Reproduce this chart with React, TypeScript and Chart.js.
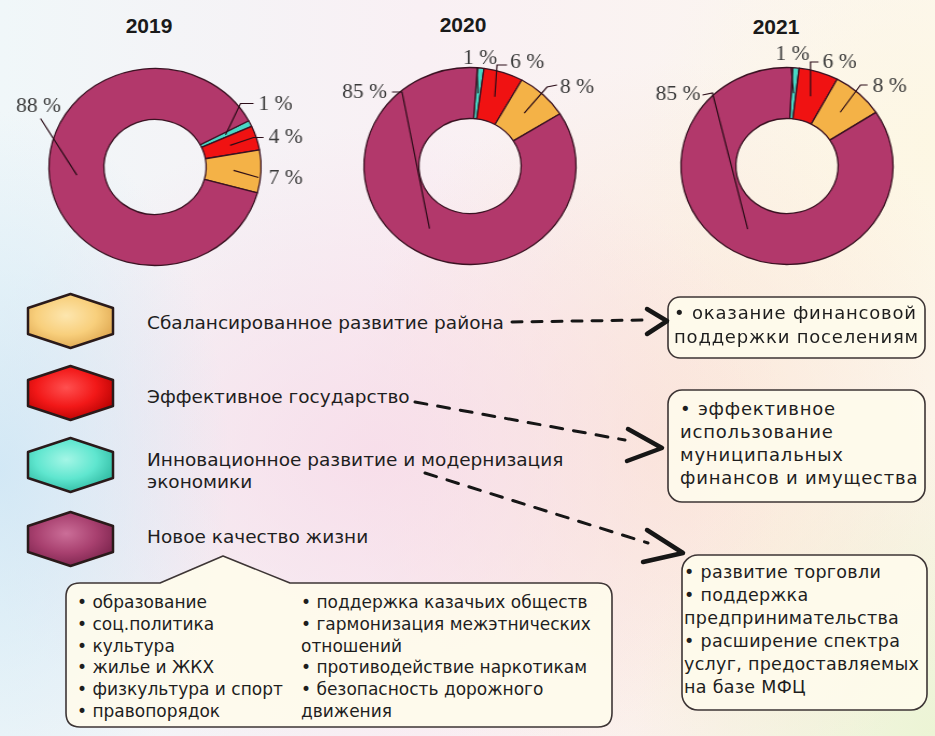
import React, { useEffect, useRef } from "react";
import { Chart, registerables } from "chart.js";

Chart.register(...registerables);

// ---------------- data ----------------
const categories = [
  "Инновационное развитие и модернизация экономики",
  "Эффективное государство",
  "Сбалансированное развитие района",
  "Новое качество жизни",
];
const sliceColors = ["#48D8C6", "#F01212", "#F4B247", "#B2386B"];
const years = ["2019", "2020", "2021"];
const values2019 = [1, 4, 7, 88];
const values2020 = [1, 6, 8, 85];
const values2021 = [1, 6, 8, 85];
const legendOrder = [2, 1, 0, 3];

const box1Lines = ["• оказание финансовой", "поддержки поселениям"];
const box2Lines = ["• эффективное", "использование", "муниципальных", "финансов и имущества"];
const box3Lines = [
  "• развитие торговли",
  "• поддержка",
  "предпринимательства",
  "• расширение спектра",
  "услуг, предоставляемых",
  "на базе МФЦ",
];
const lifeLeft = ["• образование", "• соц.политика", "• культура", "• жилье и ЖКХ", "• физкультура и спорт", "• правопорядок"];
const lifeRight = [
  "• поддержка казачьих обществ",
  "• гармонизация межэтнических",
  "отношений",
  "• противодействие наркотикам",
  "• безопасность дорожного",
  "движения",
];

// ---------------- layout / style ----------------
const CW = 300;
const CH = 250;
const SX = 1.077;
const R_OUT = 98.5;
const R_IN = 47.5;

type LabelPos = { e: number[]; k?: number[]; t: number[]; a: CanvasTextAlign };

const layout2019: LabelPos[] = [
  { e: [85.5, -63.5], k: [98.5, -63.5], t: [103.5, -62.5], a: "left" },
  { e: [98.5, -29.5], k: [108.5, -29.5], t: [113.5, -29.5], a: "left" },
  { e: [103.5, 10.5], t: [113.5, 11.5], a: "left" },
  { e: [-114.5, -48.5], t: [-116.5, -60.5], a: "center" },
];
const layout2020: LabelPos[] = [
  { e: [7, -99], t: [10, -107], a: "center" },
  { e: [27, -101], k: [37, -101], t: [40, -103], a: "left" },
  { e: [77, -79], k: [87, -81], t: [90, -78], a: "left" },
  { e: [-68, -74], k: [-78, -74], t: [-83, -73], a: "right" },
];
const layout2021: LabelPos[] = [
  { e: [4, -99], t: [5.5, -111], a: "center" },
  { e: [23.5, -104], k: [31.5, -104], t: [35.5, -103], a: "left" },
  { e: [73.5, -81], k: [80.5, -81], t: [85.5, -79], a: "left" },
  { e: [-74.5, -73], k: [-84.5, -71], t: [-86.5, -71], a: "right" },
];

const leaderPlugin = {
  id: "leaders",
  afterDatasetsDraw(chart: any, _args: any, opts: any) {
    const { ctx } = chart;
    const meta = chart.getDatasetMeta(0);
    const ds = chart.data.datasets[0];
    const sx = opts.sx || 1;
    ctx.save();
    meta.data.forEach((arc: any, i: number) => {
      const L: LabelPos = opts.layout[i];
      if (!L) return;
      const p = arc.getProps(["x", "y", "startAngle", "endAngle", "innerRadius", "outerRadius"], true);
      const mid = (p.startAngle + p.endAngle) / 2;
      const r = (p.innerRadius + p.outerRadius) / 2;
      const ax = p.x + Math.cos(mid) * r;
      const ay = p.y + Math.sin(mid) * r;
      ctx.beginPath();
      ctx.moveTo(ax, ay);
      ctx.lineTo(p.x + L.e[0] / sx, p.y + L.e[1]);
      if (L.k) ctx.lineTo(p.x + L.k[0] / sx, p.y + L.k[1]);
      ctx.strokeStyle = "#2b0d18";
      ctx.lineWidth = 1.2;
      ctx.stroke();
      ctx.font = "20px 'Liberation Serif', serif";
      ctx.fillStyle = "#3a3a3a";
      ctx.textAlign = L.a;
      ctx.textBaseline = "middle";
      ctx.fillText(`${ds.data[i]} %`, p.x + L.t[0] / sx, p.y + L.t[1]);
    });
    ctx.restore();
  },
};

function Donut(props: { values: number[]; rotation: number; cx: number; cy: number; layout: LabelPos[] }) {
  const ref = useRef<HTMLCanvasElement>(null);
  useEffect(() => {
    const chart = new Chart(ref.current as HTMLCanvasElement, {
      type: "doughnut",
      data: {
        labels: categories,
        datasets: [
          {
            data: props.values,
            backgroundColor: sliceColors,
            borderColor: "#3a1222",
            borderWidth: 1.3,
          },
        ],
      },
      options: {
        responsive: false,
        animation: false,
        devicePixelRatio: 1,
        events: [],
        rotation: props.rotation,
        radius: R_OUT,
        cutout: `${(R_IN / R_OUT) * 100}%`,
        layout: { padding: 0 },
        plugins: {
          legend: { display: false },
          tooltip: { enabled: false },
          leaders: { layout: props.layout, sx: SX },
        } as any,
      } as any,
      plugins: [leaderPlugin as any],
    });
    return () => chart.destroy();
  }, []);
  return (
    <canvas
      ref={ref}
      width={CW}
      height={CH}
      style={{
        position: "absolute",
        left: props.cx - CW / 2,
        top: props.cy - CH / 2,
        width: CW,
        height: CH,
        transform: `scaleX(${SX})`,
        transformOrigin: "center center",
      }}
    />
  );
}

function Lines(props: {
  x: number;
  y: number;
  lh: number;
  size: number;
  lines: string[];
  ls?: number;
  color?: string;
}) {
  return (
    <div
      style={{
        position: "absolute",
        left: props.x,
        top: props.y - props.lh / 2,
        fontFamily: "'DejaVu Sans', sans-serif",
        fontSize: props.size,
        lineHeight: `${props.lh}px`,
        letterSpacing: props.ls ?? 0,
        color: props.color ?? "#1e1e1e",
        whiteSpace: "nowrap",
      }}
    >
      {props.lines.map((l, i) => (
        <div key={i}>{l}</div>
      ))}
    </div>
  );
}

const hexColors = [
  { base: "#5FE6CF", light: "#A4F6E6", dark: "#2DB79F" },
  { base: "#F21818", light: "#FF5050", dark: "#B50000" },
  { base: "#F8CF7C", light: "#FDE6AE", dark: "#DDA54E" },
  { base: "#A8406F", light: "#CB6E98", dark: "#7A234C" },
];
const hexTops = [294, 366, 438, 512];
const legendTextY = [[323], [397], [460, 482], [537]];

function hexPoints(y0: number) {
  const x0 = 28, x1 = 113, cx = 70.5, h = 54, d = 14;
  const y1 = y0 + h;
  return `${cx},${y0} ${x1},${y0 + d} ${x1},${y1 - d} ${cx},${y1} ${x0},${y1 - d} ${x0},${y0 + d}`;
}

function lifeBoxPath() {
  const x0 = 66, x1 = 612, y0 = 583, y1 = 727, r = 14;
  return `M ${x0 + r} ${y0} L 160 ${y0} L 223 556 L 290 ${y0} L ${x1 - r} ${y0} Q ${x1} ${y0} ${x1} ${y0 + r} L ${x1} ${y1 - r} Q ${x1} ${y1} ${x1 - r} ${y1} L ${x0 + r} ${y1} Q ${x0} ${y1} ${x0} ${y1 - r} L ${x0} ${y0 + r} Q ${x0} ${y0} ${x0 + r} ${y0} Z`;
}

export default function App() {
  const bg = [
    "radial-gradient(ellipse 230px 360px at 0% 64%, rgba(205,230,245,0.85), rgba(205,230,245,0) 100%)",
    "radial-gradient(ellipse 420px 330px at 40% 62%, rgba(247,218,232,0.8), rgba(247,218,232,0) 100%)",
    "radial-gradient(ellipse 330px 380px at 72% 60%, rgba(252,226,204,0.7), rgba(252,226,204,0) 100%)",
    "radial-gradient(ellipse 300px 320px at 100% 100%, rgba(234,244,210,0.9), rgba(234,244,210,0) 100%)",
    "radial-gradient(ellipse 300px 250px at 100% 20%, rgba(253,247,226,0.9), rgba(253,247,226,0) 100%)",
    "linear-gradient(90deg, #f0f7f9 0%, #f9f0f4 45%, #fcf7ee 100%)",
  ].join(",");
  return (
    <div
      style={{
        position: "absolute",
        left: 0,
        top: 0,
        width: 935,
        height: 736,
        overflow: "hidden",
        background: bg,
      }}
    >
      <svg width={935} height={736} style={{ position: "absolute", left: 0, top: 0 }}>
        <defs>
          {hexColors.map((c, i) => (
            <radialGradient key={i} id={`hg${i}`} cx="45%" cy="40%" r="65%">
              <stop offset="0%" stopColor={c.light} />
              <stop offset="55%" stopColor={c.base} />
              <stop offset="100%" stopColor={c.dark} />
            </radialGradient>
          ))}
        </defs>
        {legendOrder.map((ci, i) => (
          <polygon
            key={i}
            points={hexPoints(hexTops[i])}
            fill={`url(#hg${ci})`}
            stroke="#2a1a1a"
            strokeWidth={2.5}
            strokeLinejoin="round"
          />
        ))}
        {/* text boxes */}
        <rect x={668} y={297} width={257} height={61} rx={12} fill="#fefbec" fillOpacity={0.92} stroke="#3d3535" strokeWidth={1.6} />
        <rect x={668} y={390} width={257} height={112} rx={14} fill="#fefbec" fillOpacity={0.92} stroke="#3d3535" strokeWidth={1.6} />
        <rect x={682} y={555} width={245} height={155} rx={16} fill="#fefbec" fillOpacity={0.92} stroke="#3d3535" strokeWidth={1.6} />
        <path d={lifeBoxPath()} fill="#fefbec" fillOpacity={0.92} stroke="#3d3535" strokeWidth={1.6} strokeLinejoin="round" />
        {/* arrows */}
        <g stroke="#161616" fill="none" strokeLinecap="round" strokeLinejoin="round">
          <line x1={512} y1={322} x2={643} y2={320} strokeWidth={3} strokeDasharray="10 10" />
          <polyline points="647,309 667,321 647,334" strokeWidth={4.5} />
          <line x1={415} y1={402} x2={625} y2={440} strokeWidth={3} strokeDasharray="12 11" />
          <polyline points="628,429 662,448 627,461" strokeWidth={4.5} />
          <line x1={425} y1={473} x2={648} y2={543} strokeWidth={3} strokeDasharray="12 11" />
          <polyline points="647,530 683,553 643,562" strokeWidth={4.5} />
        </g>
      </svg>

      {/* titles */}
      {years.map((y, i) => (
        <div
          key={y}
          style={{
            position: "absolute",
            left: [149, 463, 776][i] - 40,
            top: [26, 25, 27][i] - 13,
            width: 80,
            textAlign: "center",
            fontFamily: "'Liberation Sans', sans-serif",
            fontWeight: "bold",
            fontSize: 21,
            lineHeight: "26px",
            color: "#1a1a1a",
          }}
        >
          {y}
        </div>
      ))}

      <Donut values={values2019} rotation={62} cx={154.5} cy={166.5} layout={layout2019} />
      <Donut values={values2020} rotation={4} cx={470} cy={166} layout={layout2020} />
      <Donut values={values2021} rotation={3} cx={786.5} cy={166} layout={layout2021} />

      {/* legend text */}
      <Lines x={147} y={legendTextY[0][0]} lh={22} size={18.5} lines={[categories[2]]} />
      <Lines x={147} y={legendTextY[1][0]} lh={22} size={18.5} lines={[categories[1]]} />
      <Lines x={147} y={legendTextY[2][0]} lh={22} size={18.5} lines={["Инновационное развитие и модернизация", "экономики"]} />
      <Lines x={147} y={legendTextY[3][0]} lh={22} size={18.5} lines={[categories[3]]} />

      {/* box texts */}
      <Lines x={674} y={313} lh={24} size={18} ls={0.8} lines={box1Lines} />
      <Lines x={680} y={408} lh={23} size={18} ls={0.8} lines={box2Lines} />
      <Lines x={684} y={572} lh={23} size={17.5} ls={0.3} lines={box3Lines} />
      <Lines x={77} y={603} lh={21.8} size={17} lines={lifeLeft} />
      <Lines x={301} y={603} lh={21.8} size={17} lines={lifeRight} />
    </div>
  );
}
